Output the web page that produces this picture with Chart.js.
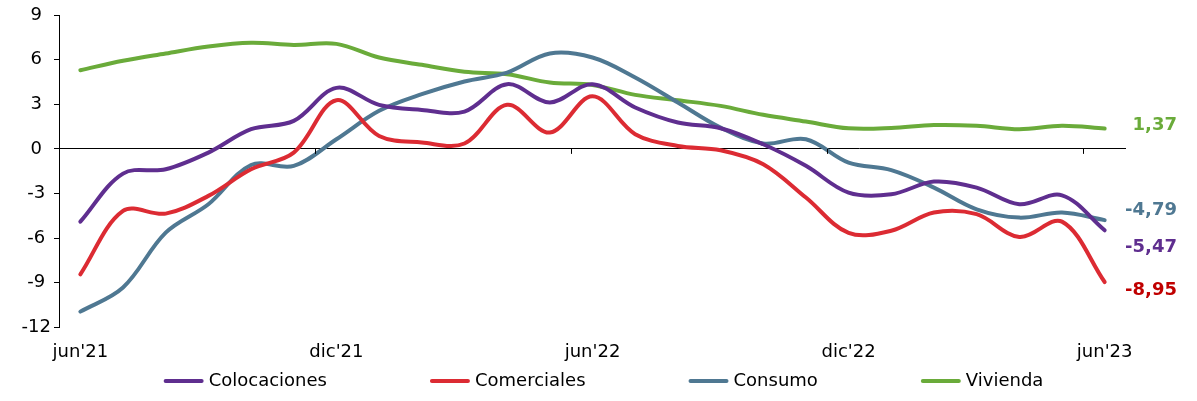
<!DOCTYPE html>
<html lang="es">
<head>
<meta charset="utf-8">
<title>Colocaciones</title>
<script src="https://cdn.jsdelivr.net/npm/chart.js@4.4.1/dist/chart.umd.min.js"></script>
<style>
  html, body { margin: 0; padding: 0; background: #fff; }
  #wrap { position: relative; width: 1197px; height: 401px; }
</style>
</head>
<body>
<div id="wrap"><canvas id="loansChart"></canvas></div>
<script>
const months = [
  "jun'21", "jul'21", "ago'21", "sep'21", "oct'21", "nov'21",
  "dic'21", "ene'22", "feb'22", "mar'22", "abr'22", "may'22",
  "jun'22", "jul'22", "ago'22", "sep'22", "oct'22", "nov'22",
  "dic'22", "ene'23", "feb'23", "mar'23", "abr'23", "may'23",
  "jun'23"
];

const colocaciones = [-4.89, -1.66, -1.37, -0.25, 1.32, 1.88, 4.10, 2.96, 2.62, 2.51, 4.35, 3.12, 4.35, 2.78, 1.77, 1.39, 0.31, -1.14, -2.94, -3.05, -2.20, -2.60, -3.72, -3.12, -5.47];
const comerciales = [-8.43, -4.17, -4.35, -3.16, -1.37, -0.25, 3.27, 0.87, 0.43, 0.36, 2.96, 1.10, 3.53, 0.99, 0.20, -0.09, -1.03, -3.27, -5.65, -5.50, -4.28, -4.39, -5.92, -4.89, -8.95];
const consumo = [-10.94, -9.32, -5.63, -3.72, -1.08, -1.14, 0.65, 2.56, 3.68, 4.53, 5.13, 6.41, 6.14, 4.80, 3.12, 1.43, 0.36, 0.65, -0.92, -1.43, -2.60, -4.06, -4.62, -4.28, -4.79];
const vivienda = [5.29, 5.92, 6.41, 6.88, 7.13, 6.99, 7.06, 6.14, 5.65, 5.18, 5.02, 4.46, 4.30, 3.63, 3.27, 2.89, 2.29, 1.84, 1.38, 1.40, 1.60, 1.55, 1.32, 1.55, 1.37];

const yTicks = [-12, -9, -6, -3, 0, 3, 6, 9];

const FONT = "DejaVu Sans";

function makeSeries(label, data, color, endColor, endShift) {
  return {
    label: label,
    data: data,
    borderColor: color,
    backgroundColor: color,
    borderWidth: 4,
    borderCapStyle: "round",
    pointRadius: 0,
    tension: 0.35,
    endColor: endColor,
    endShift: endShift
  };
}

// tick marks on the zero line every 6 months
const zeroTicks = {
  id: "zeroTicks",
  afterDatasetsDraw(chart) {
    const x = chart.scales.x;
    const y0 = chart.scales.y.getPixelForValue(0);
    const ctx = chart.ctx;
    ctx.save();
    ctx.strokeStyle = "#000";
    ctx.lineWidth = 1;
    for (let i = 6; i < months.length; i += 6) {
      const px = Math.round((x.getPixelForValue(i) + x.getPixelForValue(i - 1)) / 2) + 0.5;
      ctx.beginPath();
      ctx.moveTo(px, y0);
      ctx.lineTo(px, y0 + 5);
      ctx.stroke();
    }
    ctx.restore();
  }
};

// last value written at the right of each line
const endLabels = {
  id: "endLabels",
  afterDatasetsDraw(chart) {
    const ctx = chart.ctx;
    const y = chart.scales.y;
    ctx.save();
    ctx.font = "bold 18px '" + FONT + "'";
    ctx.textAlign = "right";
    ctx.textBaseline = "middle";
    chart.data.datasets.forEach((ds) => {
      const last = ds.data[ds.data.length - 1];
      ctx.fillStyle = ds.endColor;
      ctx.fillText(last.toFixed(2).replace(".", ","), 1177, y.getPixelForValue(last) + ds.endShift);
    });
    ctx.restore();
  }
};

// legend with wide gaps, like the original
const wideLegend = {
  id: "wideLegend",
  afterDraw(chart) {
    const ctx = chart.ctx;
    const lineLen = 40;
    const textGap = 5;
    const itemGap = 103;
    const yMid = 381;
    ctx.save();
    ctx.font = "18px '" + FONT + "'";
    const items = chart.data.datasets.map((ds) => ({
      ds: ds,
      w: lineLen + textGap + ctx.measureText(ds.label).width
    }));
    const total = items.reduce((s, it) => s + it.w, 0) + itemGap * (items.length - 1);
    let x = (chart.width - total) / 2 + 5;
    items.forEach((it) => {
      ctx.strokeStyle = it.ds.borderColor;
      ctx.lineWidth = 4;
      ctx.lineCap = "round";
      ctx.beginPath();
      ctx.moveTo(x + 2, yMid);
      ctx.lineTo(x + lineLen - 2, yMid);
      ctx.stroke();
      ctx.fillStyle = "#000";
      ctx.textAlign = "left";
      ctx.textBaseline = "middle";
      ctx.fillText(it.ds.label, x + lineLen + textGap, yMid);
      x += it.w + itemGap;
    });
    ctx.restore();
  }
};

new Chart(document.getElementById("loansChart"), {
  type: "line",
  data: {
    labels: months,
    datasets: [
      makeSeries("Colocaciones", colocaciones, "#5f2e8f", "#5f2e8f", 17),
      makeSeries("Comerciales", comerciales, "#dc2b33", "#c00000", 8),
      makeSeries("Consumo", consumo, "#4f7892", "#4f7892", -10),
      makeSeries("Vivienda", vivienda, "#6aab3a", "#6aab3a", -3)
    ]
  },
  options: {
    responsive: true,
    maintainAspectRatio: false,
    animation: false,
    layout: {
      padding: { left: 0, right: 71, top: 15, bottom: 24 }
    },
    plugins: {
      legend: { display: false },
      tooltip: { enabled: false }
    },
    scales: {
      x: {
        type: "category",
        offset: true,
        grid: { display: false, drawTicks: false },
        border: { display: false },
        ticks: {
          autoSkip: false,
          maxRotation: 0,
          padding: 14,
          color: "#000",
          font: { family: FONT, size: 18 },
          callback: (value, index) => (index % 6 === 0 ? months[index] : "")
        }
      },
      y: {
        min: yTicks[0],
        max: yTicks[yTicks.length - 1],
        afterBuildTicks: (scale) => {
          scale.ticks = yTicks.map((v) => ({ value: v }));
        },
        afterFit: (scale) => {
          scale.width = 59;
        },
        border: { display: true, color: "#000", width: 1 },
        grid: {
          drawTicks: true,
          tickLength: 5,
          tickColor: "#000",
          lineWidth: 1,
          color: (ctx) => (ctx.tick && ctx.tick.value === 0 ? "#000" : "rgba(0,0,0,0)")
        },
        ticks: {
          crossAlign: "center",
          padding: 3,
          color: "#000",
          font: { family: FONT, size: 18 }
        }
      }
    }
  },
  plugins: [zeroTicks, endLabels, wideLegend]
});
</script>
</body>
</html>
